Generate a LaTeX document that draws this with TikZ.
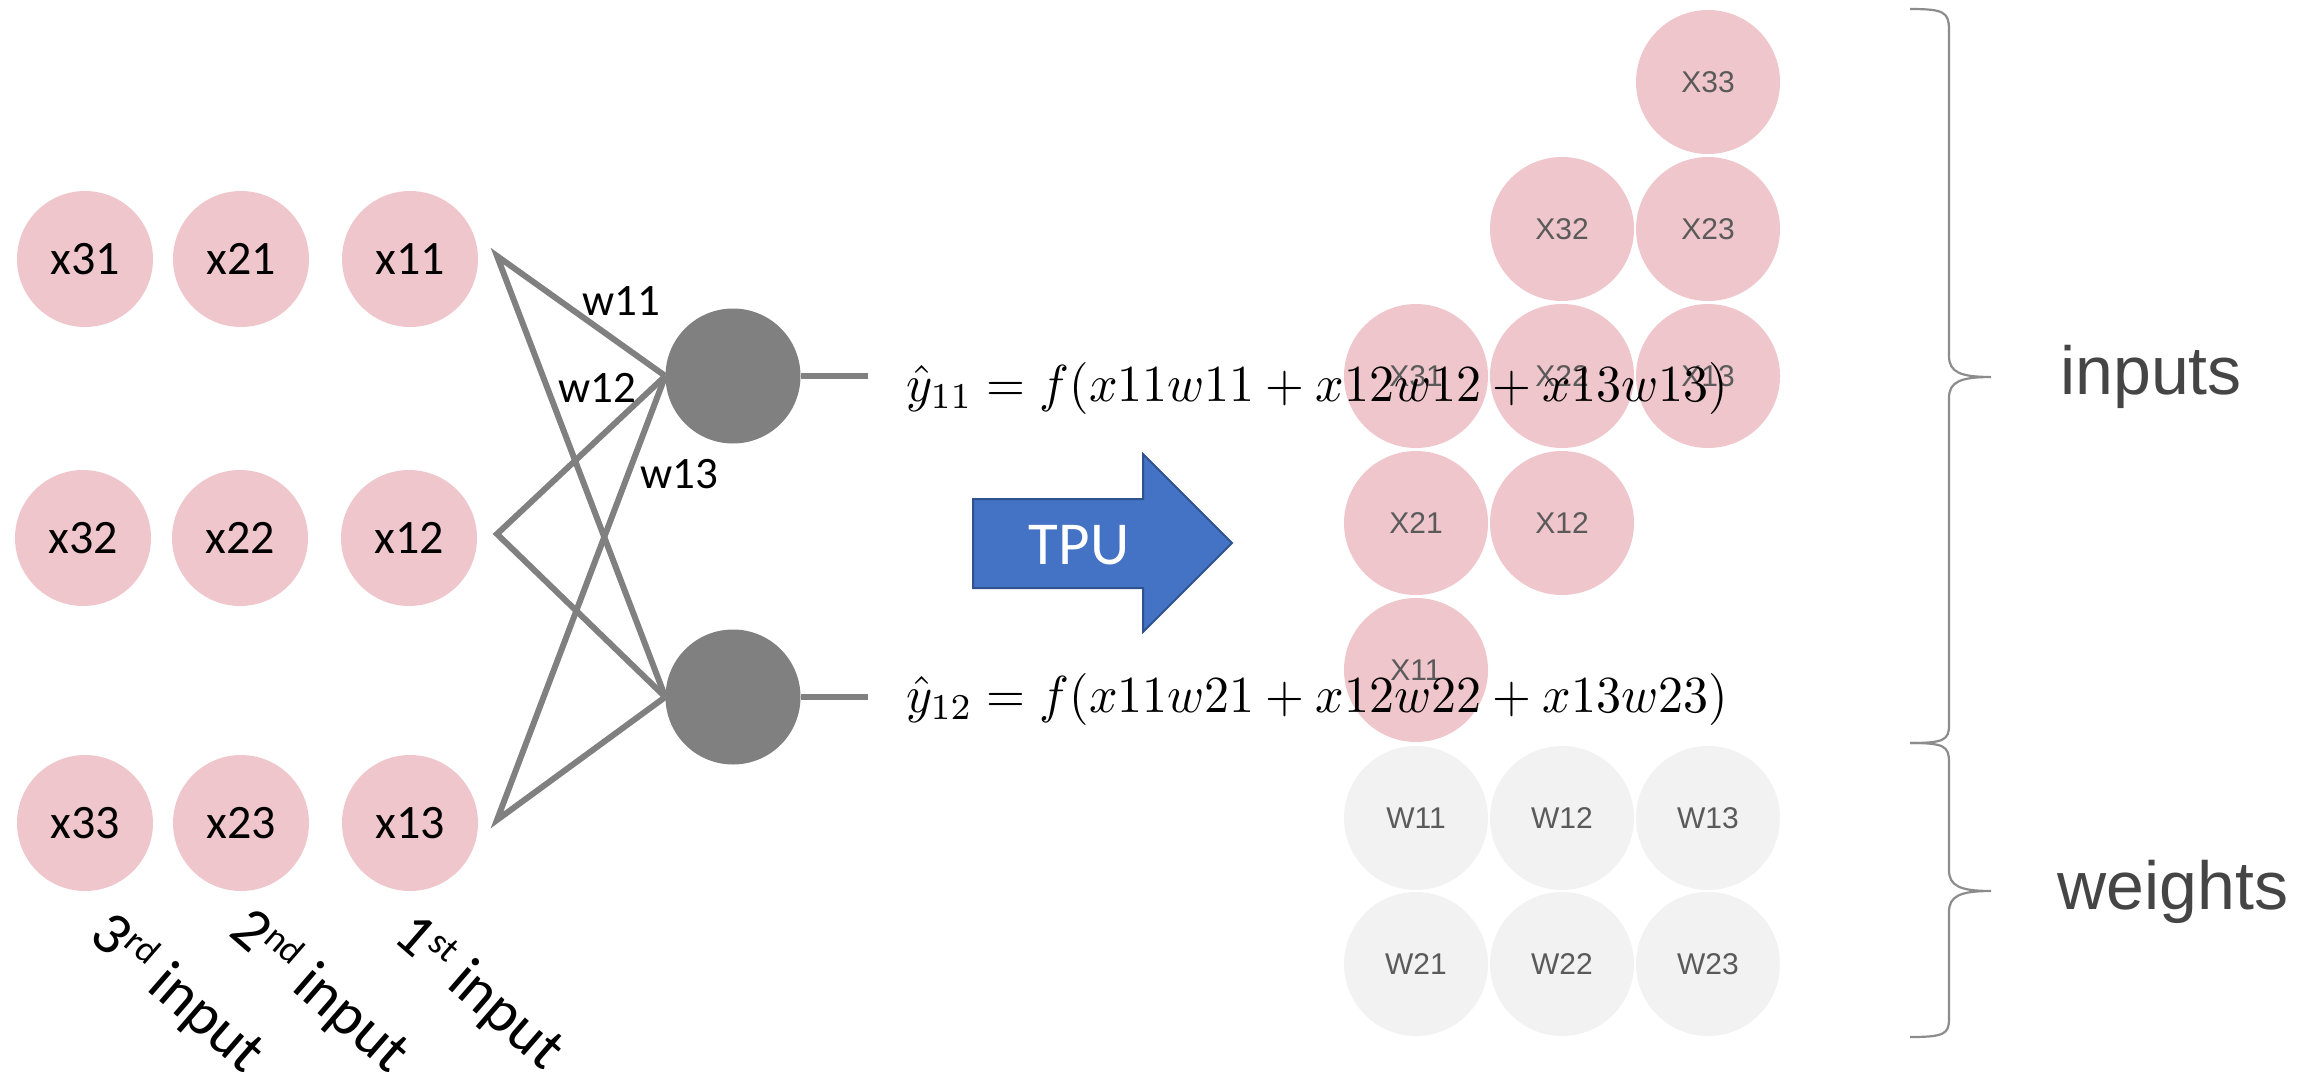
\documentclass[tikz,border=0pt]{standalone}
\usepackage[no-math]{fontspec}
\newfontfamily\calib{Carlito}
\newfontfamily\plain{Liberation Sans}
\definecolor{pinkfill}{HTML}{F0C6CD}
\definecolor{wfill}{HTML}{F2F2F2}
\definecolor{neuron}{HTML}{808080}
\definecolor{tpublue}{HTML}{4472C4}
\definecolor{tpuedge}{HTML}{2F528F}
\definecolor{celltext}{HTML}{5A5A5A}
\definecolor{bracegray}{HTML}{8C8C8C}
\definecolor{labelgray}{HTML}{454545}
\newcommand{\ordsup}[1]{\raisebox{0.62ex}{\fontsize{37}{40}\selectfont #1}}
\tikzset{
  inp/.style={circle, fill=pinkfill, minimum size=136pt, inner sep=0pt,
    font=\calib\fontsize{48}{52}\selectfont},
  unit/.style={circle, fill=neuron, minimum size=135pt, inner sep=0pt},
  wire/.style={draw=neuron, line width=6pt, line join=miter},
  wlab/.style={inner sep=0pt, font=\calib\fontsize{45}{48}\selectfont},
  cell/.style={circle, minimum size=144pt, inner sep=0pt, text=celltext,
    font=\plain\fontsize{30}{34}\selectfont},
  xcell/.style={cell, fill=pinkfill},
  wcell/.style={cell, fill=wfill},
  ordlab/.style={rotate=-41, inner sep=0pt, font=\calib\fontsize{61}{64}\selectfont},
  eqn/.style={anchor=base west, inner sep=0pt},
  brace/.style={draw=bracegray, line width=2.2pt},
  grouplab/.style={text=labelgray, inner sep=0pt, font=\plain\fontsize{68}{72}\selectfont}
}
\begin{document}
\begin{tikzpicture}[x=1pt,y=-1pt]
\useasboundingbox (0,0) rectangle (2318,1084);

% input columns
\node[inp] (x31) at (85,259) {x31};
\node[inp] (x21) at (241,259) {x21};
\node[inp] (x11) at (410,259) {x11};
\node[inp] (x32) at (83,538) {x32};
\node[inp] (x22) at (240,538) {x22};
\node[inp] (x12) at (409,538) {x12};
\node[inp] (x33) at (85,823) {x33};
\node[inp] (x23) at (241,823) {x23};
\node[inp] (x13) at (410,823) {x13};

% neurons
\node[unit] (n1) at (733,376) {};
\node[unit] (n2) at (733,697) {};

\coordinate (p1) at (497,256);
\coordinate (p2) at (497,534);
\coordinate (p3) at (497,820);
\coordinate (o1) at (868,376);
\coordinate (o2) at (868,697);

\draw[wire] (n1.west) -- (p1) -- (n2.west);
\draw[wire] (n1.west) -- (p2) -- (n2.west);
\draw[wire] (n1.west) -- (p3) -- (n2.west);
\draw[wire] (n1.east) -- (o1);
\draw[wire] (n2.east) -- (o2);

\node[wlab] (w11) at (621,301) {w11};
\node[wlab] (w12) at (597,388) {w12};
\node[wlab] (w13) at (679,474) {w13};

% ordinal labels
\node[ordlab] (l3) at (177,994) {3\ordsup{rd} input};
\node[ordlab] (l2) at (319,992) {2\ordsup{nd} input};
\node[ordlab] (l1) at (478,994) {1\ordsup{st} input};

% TPU arrow
\draw[fill=tpublue, draw=tpuedge, line width=2pt]
  (973,499) -- (1143,499) -- (1143,454) -- (1232,543) -- (1143,632)
  -- (1143,588) -- (973,588) -- cycle;
\node[text=white, inner sep=0pt, font=\calib\fontsize{61}{64}\selectfont] (tpu) at (1079,545) {TPU};

% systolic layout
\node[xcell] (c33) at (1708,82) {X33};
\node[xcell] (c32) at (1562,229) {X32};
\node[xcell] (c23) at (1708,229) {X23};
\node[xcell] (c31) at (1416,376) {X31};
\node[xcell] (c22) at (1562,376) {X22};
\node[xcell] (c13) at (1708,376) {X13};
\node[xcell] (c21) at (1416,523) {X21};
\node[xcell] (c12) at (1562,523) {X12};
\node[xcell] (c11) at (1416,670) {X11};
\node[wcell] (d11) at (1416,818) {W11};
\node[wcell] (d12) at (1562,818) {W12};
\node[wcell] (d13) at (1708,818) {W13};
\node[wcell] (d21) at (1416,964) {W21};
\node[wcell] (d22) at (1562,964) {W22};
\node[wcell] (d23) at (1708,964) {W23};

% outputs
\node[eqn] (y11) at (906,401) {\scalebox{5}[5.2]{$\hat{y}_{11}=f(x11w11+x12w12+x13w13)$}};
\node[eqn] (y12) at (906,712) {\scalebox{5}[5.2]{$\hat{y}_{12}=f(x11w21+x12w22+x13w23)$}};

% braces
\draw[brace] (1910,9) .. controls (1944,9) and (1949,12) .. (1949,30)
  -- (1949,356) .. controls (1949,372) and (1960,377) .. (1991,377)
  .. controls (1960,377) and (1949,382) .. (1949,398)
  -- (1949,725) .. controls (1949,740) and (1944,743) .. (1910,743);
\draw[brace] (1910,743) .. controls (1944,743) and (1949,746) .. (1949,762)
  -- (1949,870) .. controls (1949,886) and (1960,891) .. (1991,891)
  .. controls (1960,891) and (1949,896) .. (1949,912)
  -- (1949,1019) .. controls (1949,1034) and (1944,1037) .. (1910,1037);

\node[grouplab] (gin) at (2151,377) {inputs};
\node[grouplab] (gw) at (2173,892) {weights};
\end{tikzpicture}
\end{document}
